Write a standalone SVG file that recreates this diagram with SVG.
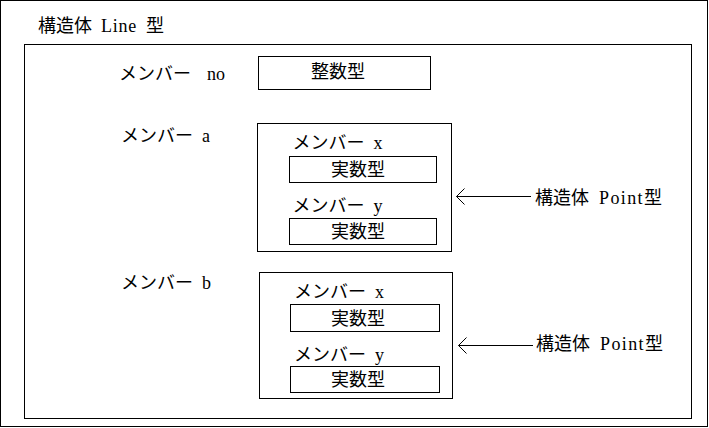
<svg xmlns="http://www.w3.org/2000/svg" width="709" height="428" viewBox="0 0 709 428">
<style>
.box{fill:none;stroke:#000;stroke-width:1}
.t{font-family:"Liberation Serif","Noto Sans CJK JP",serif;font-size:18px;fill:#000}
.conn{stroke:#000;stroke-width:1;fill:none}
</style>
<defs>
<marker id="open" viewBox="-1 -1 11 18" refX="8" refY="8" markerWidth="11" markerHeight="18" markerUnits="userSpaceOnUse" orient="auto">
<path d="M0,0 L8,8 L0,16" fill="none" stroke="#000" stroke-width="1"/>
</marker>
</defs>
<rect width="709" height="428" fill="#fff"/>
<g id="frame">
<rect class="box" x="0.5" y="0.5" width="707" height="426"/>
<text class="t" x="38" y="32">構造体<tspan x="101" letter-spacing="0.75">Line</tspan><tspan x="146">型</tspan></text>
<rect class="box" x="24.5" y="44.5" width="667" height="374"/>
</g>
<g id="member-no">
<text class="t" x="119" y="80">メンバー<tspan x="207">no</tspan></text>
<rect class="box" x="258.5" y="56.5" width="172" height="33"/>
<text class="t" x="311" y="77.5">整数型</text>
</g>
<g id="member-a">
<text class="t" x="121" y="142">メンバー<tspan x="202">a</tspan></text>
<rect class="box" x="257.5" y="123.5" width="194" height="128"/>
<text class="t" x="292.5" y="148.5">メンバー<tspan x="373.5">x</tspan></text>
<rect class="box" x="289.5" y="156.5" width="147" height="26"/>
<text class="t" x="331" y="176">実数型</text>
<text class="t" x="292.5" y="212">メンバー<tspan x="373.5">y</tspan></text>
<rect class="box" x="289.5" y="218.5" width="147" height="26"/>
<text class="t" x="331" y="238">実数型</text>
</g>
<g id="member-b">
<text class="t" x="121" y="289">メンバー<tspan x="202">b</tspan></text>
<rect class="box" x="259.5" y="272.5" width="193" height="126"/>
<text class="t" x="294" y="297.5">メンバー<tspan x="375">x</tspan></text>
<rect class="box" x="290.5" y="304.5" width="149" height="27"/>
<text class="t" x="331" y="324.5">実数型</text>
<text class="t" x="294" y="361">メンバー<tspan x="375">y</tspan></text>
<rect class="box" x="290.5" y="366.5" width="149" height="26"/>
<text class="t" x="331" y="386">実数型</text>
</g>
<g id="label-point-a">
<text class="t" x="535" y="203.5">構造体<tspan x="599" letter-spacing="1.4">Point</tspan><tspan x="644">型</tspan></text>
</g>
<g id="label-point-b">
<text class="t" x="536" y="349.5">構造体<tspan x="600" letter-spacing="1.4">Point</tspan><tspan x="645">型</tspan></text>
</g>
<g id="connectors">
<line class="conn" x1="531" y1="196.5" x2="456.5" y2="196.5" marker-end="url(#open)"/>
<line class="conn" x1="533" y1="345.5" x2="458.5" y2="345.5" marker-end="url(#open)"/>
</g>
</svg>
